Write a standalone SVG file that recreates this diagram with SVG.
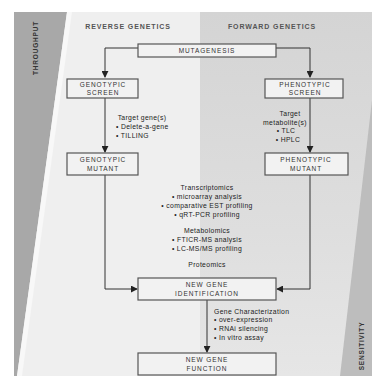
<svg xmlns="http://www.w3.org/2000/svg" width="376" height="379" viewBox="0 0 376 379">
<defs>
<linearGradient id="gR" x1="0" y1="0" x2="0" y2="1">
<stop offset="0" stop-color="#d4d4d4"/>
<stop offset="0.6" stop-color="#dedede"/>
<stop offset="1" stop-color="#e6e6e6"/>
</linearGradient>
<marker id="ah" viewBox="0 0 8 8" refX="7" refY="4" markerWidth="7" markerHeight="7" orient="auto" markerUnits="userSpaceOnUse">
<path d="M0,0 L8,4 L0,8 Z" fill="#222"/>
</marker>
<style>
.box{fill:#f2f2f2;stroke:#555;stroke-width:1.2}
.bt{font-family:"Liberation Sans",Arial,sans-serif;font-size:6.5px;fill:#333;text-anchor:middle;letter-spacing:0.9px}
.hd{font-family:"Liberation Sans",Arial,sans-serif;font-size:7px;font-weight:bold;fill:#555;text-anchor:middle;letter-spacing:0.9px}
.t{font-family:"Liberation Sans",Arial,sans-serif;font-size:6.8px;fill:#222;letter-spacing:0.35px}
.c{text-anchor:middle}
.ln{fill:none;stroke:#333;stroke-width:1}
.side{font-family:"Liberation Sans",Arial,sans-serif;font-size:6.5px;font-weight:bold;fill:#333;text-anchor:middle;letter-spacing:0.8px}
</style>
</defs>
<rect width="376" height="379" fill="#ffffff"/>
<rect x="14" y="12" width="188" height="364" fill="#efefef"/>
<rect x="200" y="12" width="172" height="364" fill="url(#gR)"/>
<polygon points="14,12 67,12 17,376 14,376" fill="#a8a8a8"/>
<polygon points="67,12 72,12 22,376 17,376" fill="#f8f8f8"/>
<polygon points="372,100 372,376 340,376" fill="#bdbdbd"/>
<text class="side" transform="translate(38,48) rotate(-90)">THROUGHPUT</text>
<text class="side" transform="translate(364,346) rotate(-90)">SENSITIVITY</text>
<text class="hd" x="128" y="29">REVERSE GENETICS</text>
<text class="hd" x="272" y="29">FORWARD GENETICS</text>
<g id="connectors">
<path class="ln" d="M138,48 H105 V77" marker-end="url(#ah)"/>
<path class="ln" d="M276,48 H310 V77" marker-end="url(#ah)"/>
<path class="ln" d="M105,98 V152" marker-end="url(#ah)"/>
<path class="ln" d="M310,98 V152" marker-end="url(#ah)"/>
<path class="ln" d="M105,175 V289 H137" marker-end="url(#ah)"/>
<path class="ln" d="M310,175 V289 H277" marker-end="url(#ah)"/>
<path class="ln" d="M207,300 V352" marker-end="url(#ah)"/>
</g>
<g id="mutagenesis">
<rect class="box" x="138" y="44" width="138" height="13"/>
<text class="bt" x="207" y="53">MUTAGENESIS</text>
</g>
<g id="genotypic-screen">
<rect class="box" x="67" y="79" width="71" height="19"/>
<text class="bt" x="103" y="87">GENOTYPIC</text>
<text class="bt" x="103" y="95">SCREEN</text>
</g>
<g id="phenotypic-screen">
<rect class="box" x="265" y="79" width="78" height="19"/>
<text class="bt" x="305" y="87">PHENOTYPIC</text>
<text class="bt" x="305" y="95">SCREEN</text>
</g>
<g id="reverse-note">
<text class="t c" x="142" y="120">Target gene(s)</text>
<text class="t" x="116" y="129">• Delete-a-gene</text>
<text class="t" x="116" y="138">• TILLING</text>
</g>
<g id="forward-note">
<text class="t c" x="290" y="116">Target</text>
<text class="t c" x="285" y="125">metabolite(s)</text>
<text class="t c" x="286" y="133">• TLC</text>
<text class="t c" x="288" y="142">• HPLC</text>
</g>
<g id="genotypic-mutant">
<rect class="box" x="67" y="153" width="71" height="22"/>
<text class="bt" x="103" y="162">GENOTYPIC</text>
<text class="bt" x="103" y="171">MUTANT</text>
</g>
<g id="phenotypic-mutant">
<rect class="box" x="265" y="153" width="83" height="22"/>
<text class="bt" x="306" y="162">PHENOTYPIC</text>
<text class="bt" x="306" y="171">MUTANT</text>
</g>
<g id="omics-note">
<text class="t c" x="207" y="190">Transcriptomics</text>
<text class="t c" x="207" y="199">• microarray analysis</text>
<text class="t c" x="207" y="208">• comparative EST profiling</text>
<text class="t c" x="207" y="217">• qRT-PCR profiling</text>
<text class="t c" x="207" y="233">Metabolomics</text>
<text class="t c" x="207" y="242">• FTICR-MS analysis</text>
<text class="t c" x="207" y="251">• LC-MS/MS profiling</text>
<text class="t c" x="207" y="267">Proteomics</text>
</g>
<g id="new-gene-identification">
<rect class="box" x="138" y="278" width="138" height="22"/>
<text class="bt" x="207" y="287">NEW GENE</text>
<text class="bt" x="207" y="296">IDENTIFICATION</text>
</g>
<g id="characterization-note">
<text class="t" x="214" y="314">Gene Characterization</text>
<text class="t" x="214" y="322">• over-expression</text>
<text class="t" x="214" y="331">• RNAi silencing</text>
<text class="t" x="214" y="340">• In vitro assay</text>
</g>
<g id="new-gene-function">
<rect class="box" x="138" y="353" width="138" height="22"/>
<text class="bt" x="207" y="362">NEW GENE</text>
<text class="bt" x="207" y="371">FUNCTION</text>
</g>
</svg>
